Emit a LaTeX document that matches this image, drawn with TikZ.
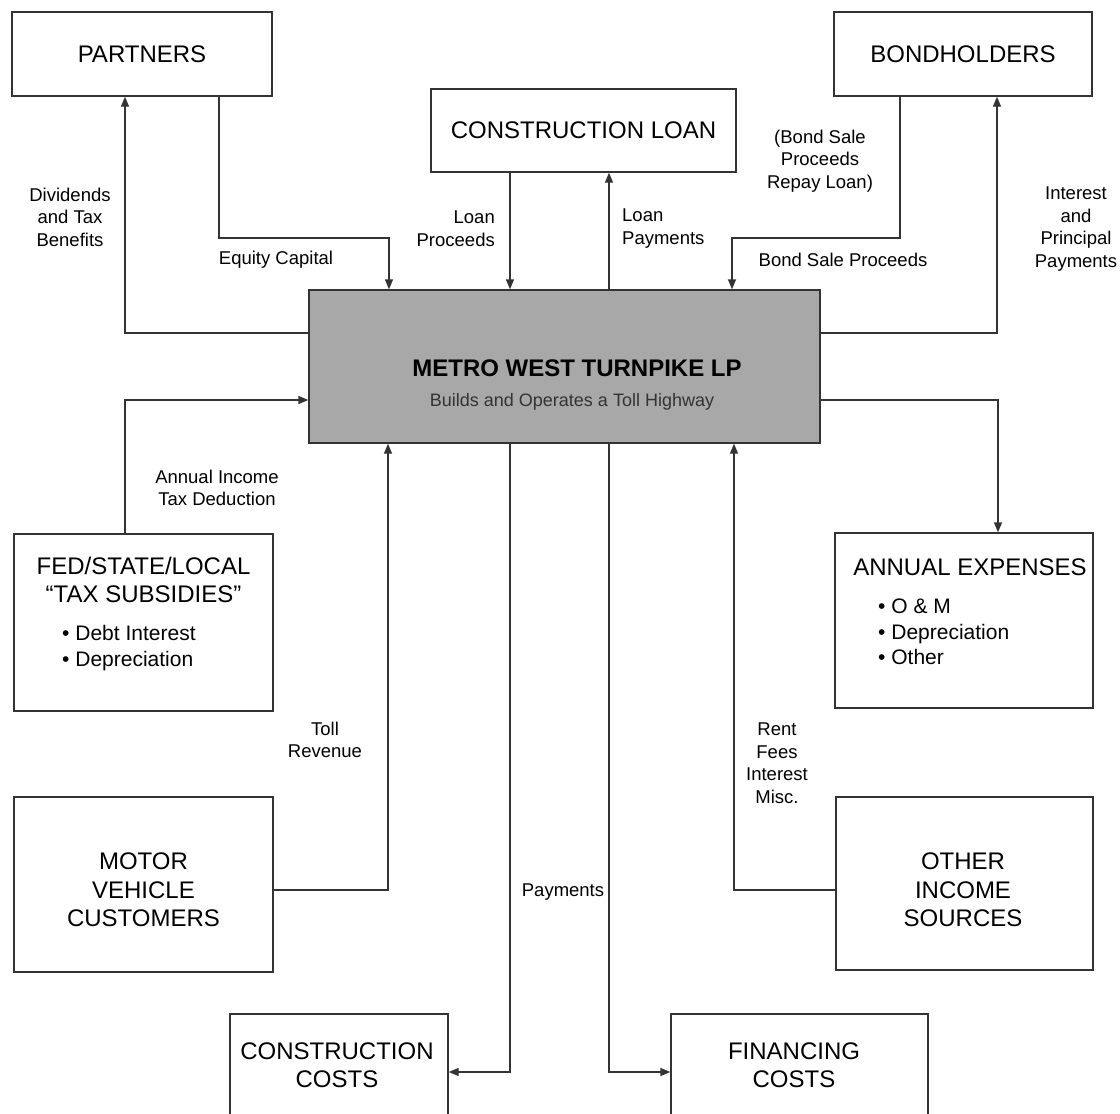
\documentclass[tikz,border=0pt]{standalone}
\usepackage{fontspec}
\setmainfont{Liberation Sans}
\usetikzlibrary{arrows.meta}
\begin{document}
\begin{tikzpicture}[x=1pt,y=-1pt,
  box/.style={draw=black!80, line width=1.4pt, inner sep=0pt, align=center,
              font=\fontsize{24}{29}\selectfont},
  flow/.style={draw=black!80, line width=1.4pt, -{Triangle[length=10pt,width=8pt]}},
  lbl/.style={font=\fontsize{18.5}{22.5}\selectfont, align=center, inner sep=0pt},
  ttl/.style={font=\fontsize{24}{28.5}\selectfont, align=center, inner sep=0pt},
  bul/.style={font=\fontsize{21}{25.5}\selectfont, align=left, inner sep=0pt, anchor=west}
]
\useasboundingbox (0,0) rectangle (1120,1114);
% boxes
\node[box, minimum width=260pt, minimum height=84pt] (partners) at (142,54) {PARTNERS};
\node[box, minimum width=305pt, minimum height=83pt] (cloan) at (583.5,130.5) {CONSTRUCTION LOAN};
\node[box, minimum width=258pt, minimum height=84pt] (bond) at (963,54) {BONDHOLDERS};
\node[box, fill=black!34, minimum width=511pt, minimum height=153pt] (center) at (564.5,366.5) {};
\node[box, minimum width=259pt, minimum height=177pt] (fed) at (143.5,622.5) {};
\node[box, minimum width=258pt, minimum height=175pt] (annual) at (964,620.5) {};
\node[box, minimum width=259pt, minimum height=175pt] (motor) at (143.5,884.5) {};
\node[box, minimum width=257pt, minimum height=173pt] (other) at (964.5,883.5) {};
\node[box, minimum width=218pt, minimum height=112pt] (ccost) at (339,1070) {};
\node[box, minimum width=257pt, minimum height=112pt] (fcost) at (799.5,1070) {};
% box texts
\node[font=\bfseries\fontsize{24}{28}\selectfont, inner sep=0pt] (ctitle) at (577,368) {METRO WEST TURNPIKE LP};
\node[font=\fontsize{18}{22}\selectfont, text=black!80, inner sep=0pt] (csub) at (572,402) {Builds and Operates a Toll Highway};
\node[ttl] (fedt) at (143.5,580) {FED/STATE/LOCAL\\“TAX SUBSIDIES”};
\node[bul] (fedb) at (62,648) {• Debt Interest\\• Depreciation};
\node[ttl] (annt) at (970,567) {ANNUAL EXPENSES};
\node[bul] (annb) at (878,632) {• O \& M\\• Depreciation\\• Other};
\node[ttl] (mvt) at (143.5,890) {MOTOR\\VEHICLE\\CUSTOMERS};
\node[ttl] (oit) at (963,890) {OTHER\\INCOME\\SOURCES};
\node[ttl] (cct) at (337,1065) {CONSTRUCTION\\COSTS};
\node[ttl] (fct) at (794,1065) {FINANCING\\COSTS};
% connectors
\draw[flow] (center.west |- 0,333) -| (partners.south -| 125,0);
\draw[flow] (partners.south -| 219,0) |- (389,238) -- (center.north -| 389,0);
\draw[flow] (cloan.south -| 510,0) -- (center.north -| 510,0);
\draw[flow] (center.north -| 609,0) -- (cloan.south -| 609,0);
\draw[flow] (bond.south -| 900,0) |- (732,238) -- (center.north -| 732,0);
\draw[flow] (center.east |- 0,333) -| (bond.south -| 997,0);
\draw[flow] (fed.north -| 125,0) |- (center.west |- 0,400);
\draw[flow] (center.east |- 0,400) -| (annual.north -| 998,0);
\draw[flow] (motor.east |- 0,890) -| (center.south -| 388,0);
\draw[flow] (other.west |- 0,890) -| (center.south -| 734,0);
\draw[flow] (center.south -| 510,0) |- (ccost.east |- 0,1072);
\draw[flow] (center.south -| 609,0) |- (fcost.west |- 0,1072);
% labels
\node[lbl] (ldiv) at (70,217) {Dividends\\and Tax\\Benefits};
\node[lbl] (leq) at (276,260) {Equity Capital};
\node[lbl, align=right, anchor=east] (llp) at (495,228.5) {Loan\\Proceeds};
\node[lbl, align=left, anchor=west] (llpay) at (622,228.5) {Loan\\Payments};
\node[lbl] (lrepay) at (820,161) {(Bond Sale\\Proceeds\\Repay Loan)};
\node[lbl] (lbsp) at (843,260) {Bond Sale Proceeds};
\node[lbl] (lint) at (1076,229) {Interest\\and\\Principal\\Payments};
\node[lbl] (ltax) at (217,488) {Annual Income\\Tax Deduction};
\node[lbl] (ltoll) at (325,740) {Toll\\Revenue};
\node[lbl] (lrent) at (777,763) {Rent\\Fees\\Interest\\Misc.};
\node[lbl] (lpay) at (563,892) {Payments};
\end{tikzpicture}
\end{document}
